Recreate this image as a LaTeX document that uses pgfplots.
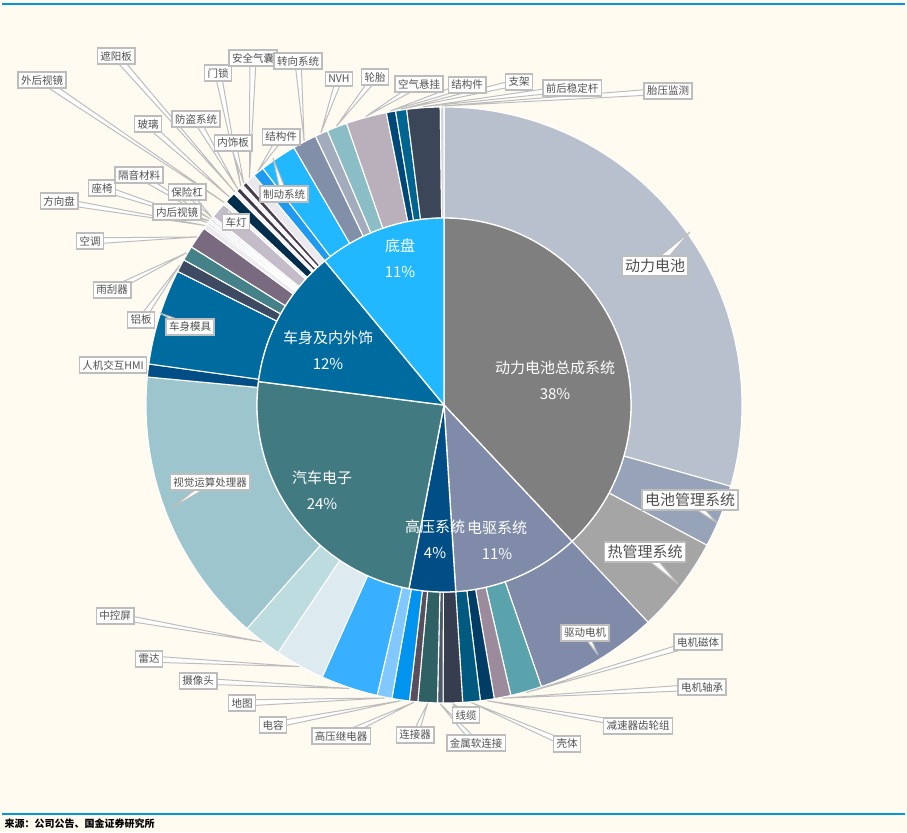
\documentclass[border=0pt]{standalone}
\usepackage{fontspec}
\setmainfont{Noto Sans CJK SC}
\usepackage{pgfplots}
\pgfplotsset{compat=1.18}

\definecolor{bg}{HTML}{FFFBF0}
\definecolor{rule}{HTML}{0098DA}
\definecolor{lead}{HTML}{BDBDBD}
\definecolor{lbltext}{HTML}{505050}

% inner ring: share/colour/name/label x/label y
\def\innerdata{%
38/7F7F7F/动力电池总成系统/555/368,%
11/7F8BA8/电驱系统/497/528,%
4/004E85/高压系统/435/527,%
24/427A82/汽车电子/322/478,%
12/006B9E/车身及内外饰/328/338,%
11/22B8FF/底盘/400/246}

% outer ring: share/colour/name/box x/box y/tip x/tip y (0 = slice edge)/font size
\def\outerdata{%
29.4/B8C0CD/动力电池/655/266/690/232/15,%
3.4/97A3B8/电池管理系统/690/500/717/523/15,%
5.2/A5A5A5/热管理系统/645/552/678/584/15,%
6.7/7F8BA8/驱动电机/585/633/598/655/10.5,%
1.7/5AA3AD/电机磁体/698/642/0/0/10.5,%
0.9/9B8B9C/电机轴承/702/687/0/0/10.5,%
0.75/003D66/减速器齿轮组/638/726/0/0/10.5,%
0.95/005A80/壳体/567/744/0/0/10.5,%
1.05/363D4E/线缆/466/715/0/0/10.5,%
0.3/4E5A6A/金属软连接/476/743/0/0/10.5,%
1.05/2F6064/连接器/415/735/0/0/10.5,%
0.45/594E5E/高压继电器/341/736/0/0/10.5,%
0.95/0094EE/电容/273/725/0/0/10.5,%
0.8/80C8FF/地图/242/703/0/0/10.5,%
3.1/38AFFF/摄像头/198/681/0/0/10.5,%
2.7/DDEBF0/雷达/149/659/0/0/10.5,%
2.1/BCDCE0/中控屏/115/616/0/0/10.5,%
15.0/9CC5CD/视觉运算处理器/210/482/172/508/10.5,%
0.7/004E85/人机交互HMI/113/365/0/0/10.5,%
5.2/006B9E/车身模具/190/327/160/313/10.5,%
0.7/3D4A62/铝板/141/320/0/0/10.5,%
0.8/448188/雨刮器/112/290/0/0/10.5,%
1.2/7A6A80/空调/90/241/0/0/10.5,%
0.3/EEEBF0/方向盘/59/201/0/0/10.5,%
0.1/A8B8CF/座椅/102/188/0/0/10.5,%
0.15/F4F2F5/内后视镜/177/212/0/0/10.5,%
0.1/A8B8CF/隔音材料/139/175/0/0/10.5,%
0.15/F4F2F5/保险杠/187/192/0/0/10.5,%
0.85/C5BCC9/车灯/236/222/225/207/10.5,%
0.2/F2F0F4/外后视镜/42/80/0/0/10.5,%
0.6/002E4C/玻璃/148/124/0/0/10.5,%
0.2/F5F3F6/遮阳板/116/56/0/0/10.5,%
0.25/3E3A4A/防盗系统/196/119/0/0/10.5,%
0.2/F5F3F6/门锁/218/73/0/0/10.5,%
0.25/4B4050/内饰板/233/143/0/0/10.5,%
0.55/ECE9EE/安全气囊/253/58/0/0/10.5,%
0.6/1E9BF0/结构件/281/137/0/0/10.5,%
2.0/22B8FF/制动系统/284/194/273/158/10.5,%
1.3/8190A8/转向系统/298/61/0/0/10.5,%
0.7/A3ACBD/NVH/339/79/0/0/10.5,%
1.1/8BBDC6/轮胎/375/77/0/0/10.5,%
2.2/B9B0BC/空气悬挂/419/84/0/0/10.5,%
0.5/00487A/结构件/467/85/0/0/10.5,%
0.6/006490/支架/519/82/0/0/10.5,%
1.8/3C4659/前后稳定杆/572/88/0/0/10.5,%
0.2/D0D4DC/胎压监测/668/91/0/0/10.5}

\tikzset{lbl/.style={draw=lead, line width=1.5pt, fill=white, text=lbltext,
  inner xsep=3pt, inner ysep=3pt}}

\begin{document}
\begin{tikzpicture}
\begin{axis}[x=1pt, y=1pt, y dir=reverse,
  xmin=0, xmax=907, ymin=0, ymax=832,
  hide axis, clip=false]

\fill[bg] (axis cs:0,0) rectangle (axis cs:907,832);
\draw[rule, line width=2.2pt] (axis cs:2,4) -- (axis cs:905,4);
\draw[rule, line width=2.2pt] (axis cs:2,814) -- (axis cs:905,814);
\node[anchor=west, font=\fontsize{10}{10}\selectfont\bfseries] at (axis cs:1,824) {来源：公司公告、国金证券研究所};

% outer ring
\gdef\cum{0}
\foreach \val/\col/\nm/\bx/\by/\gx/\gy/\fs in \outerdata {
  \xglobal\definecolor{c\col}{HTML}{\col}
  \pgfmathsetmacro\angA{\cum*3.6}
  \pgfmathsetmacro\angB{(\cum+\val)*3.6}
  \pgfmathsetmacro\stA{90-\angA}
  \pgfmathsetmacro\stB{90-\angB}
  \pgfmathsetmacro\xa{444+298*sin(\angA)}
  \pgfmathsetmacro\ya{405-298*cos(\angA)}
  \pgfmathsetmacro\xb{444+187*sin(\angB)}
  \pgfmathsetmacro\yb{405-187*cos(\angB)}
  \edef\tmp{\noexpand\filldraw[fill=c\col, draw=white, line width=1.1pt, line join=round]
    (axis cs:\xa,\ya) arc[start angle=\stA, end angle=\stB, radius=298pt]
    -- (axis cs:\xb,\yb) arc[start angle=\stB, end angle=\stA, radius=187pt] -- cycle;}
  \tmp
  \pgfmathsetmacro\nc{\cum+\val}
  \xdef\cum{\nc}
}

% inner pie
\gdef\cum{0}
\foreach \val/\col/\nm/\lx/\ly in \innerdata {
  \xglobal\definecolor{c\col}{HTML}{\col}
  \pgfmathsetmacro\angA{\cum*3.6}
  \pgfmathsetmacro\angB{(\cum+\val)*3.6}
  \pgfmathsetmacro\stA{90-\angA}
  \pgfmathsetmacro\stB{90-\angB}
  \pgfmathsetmacro\xa{444+187*sin(\angA)}
  \pgfmathsetmacro\ya{405-187*cos(\angA)}
  \edef\tmp{\noexpand\filldraw[fill=c\col, draw=white, line width=1.3pt, line join=round]
    (axis cs:444,405) -- (axis cs:\xa,\ya) arc[start angle=\stA, end angle=\stB, radius=187pt] -- cycle;}
  \tmp
  \pgfmathsetmacro\nc{\cum+\val}
  \xdef\cum{\nc}
}

% leader lines
\gdef\cum{0}
\foreach \val/\col/\nm/\bx/\by/\gx/\gy/\fs in \outerdata {
  \pgfmathsetmacro\angM{(\cum+\val/2)*3.6}
  \pgfmathsetmacro\tipx{ifthenelse(\gx==0,444+299*sin(\angM),\gx)}
  \pgfmathsetmacro\tipy{ifthenelse(\gx==0,405-299*cos(\angM),\gy)}
  \pgfmathsetmacro\ddx{\tipx-\bx}
  \pgfmathsetmacro\ddy{\tipy-\by}
  \pgfmathsetmacro\dlen{veclen(\ddx,\ddy)}
  \pgfmathsetmacro\hw{\fs*0.3}
  \pgfmathsetmacro\pxa{\bx-(\ddy)/\dlen*\hw}
  \pgfmathsetmacro\pya{\by+(\ddx)/\dlen*\hw}
  \pgfmathsetmacro\pxb{\bx+(\ddy)/\dlen*\hw}
  \pgfmathsetmacro\pyb{\by-(\ddx)/\dlen*\hw}
  \edef\tmp{\noexpand\filldraw[fill=white, draw=lead, line width=1pt, line join=round]
    (axis cs:\pxa,\pya) -- (axis cs:\tipx,\tipy) -- (axis cs:\pxb,\pyb) -- cycle;}
  \tmp
  \pgfmathsetmacro\nc{\cum+\val}
  \xdef\cum{\nc}
}

% label boxes
\foreach \val/\col/\nm/\bx/\by/\gx/\gy/\fs in \outerdata {
  \edef\tmp{\noexpand\node[lbl, font=\noexpand\fontsize{\fs}{\fs}\noexpand\selectfont]
    at (axis cs:\bx,\by) {\nm};}
  \tmp
}

% inner labels
\foreach \val/\col/\nm/\lx/\ly in \innerdata {
  \pgfmathsetmacro\lyb{\ly+26}
  \edef\tmp{\noexpand\node[text=white, font=\noexpand\fontsize{15}{15}\noexpand\selectfont]
    at (axis cs:\lx,\ly) {\nm};
    \noexpand\node[text=white, font=\noexpand\fontsize{15}{15}\noexpand\selectfont]
    at (axis cs:\lx,\lyb) {\val\noexpand\%};}
  \tmp
}

\end{axis}
\end{tikzpicture}
\end{document}
